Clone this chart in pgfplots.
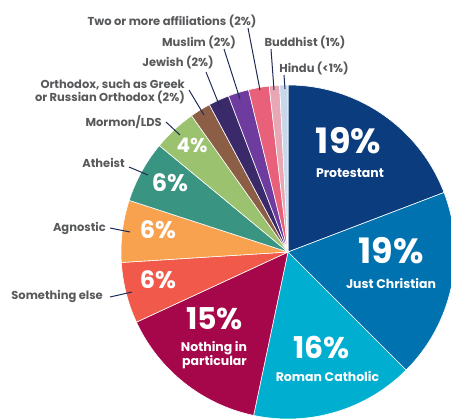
\documentclass[border=0pt]{standalone}
\usepackage{pgfplots}
\pgfplotsset{compat=1.18}
\usepackage{pgfplotstable}
\usepackage{fontspec}
\setmainfont{Poppins}
\definecolor{cProt}{HTML}{0B3C7D}
\definecolor{cJust}{HTML}{0072B0}
\definecolor{cRC}{HTML}{00AECF}
\definecolor{cNIP}{HTML}{A6064A}
\definecolor{cSE}{HTML}{F15A4A}
\definecolor{cAgn}{HTML}{F8A14E}
\definecolor{cAth}{HTML}{3A9482}
\definecolor{cMor}{HTML}{9BC26E}
\definecolor{cOrt}{HTML}{8B5E45}
\definecolor{cJew}{HTML}{3A2A6A}
\definecolor{cMus}{HTML}{6E3C9E}
\definecolor{cTwo}{HTML}{E8607A}
\definecolor{cBud}{HTML}{E8A7B4}
\definecolor{cHin}{HTML}{C8D8EA}
\definecolor{lblgray}{HTML}{58595B}
\definecolor{leader}{HTML}{1F2A55}
\pgfplotstableread[col sep=comma]{
name,value,color
Protestant,19.2,cProt
Just Christian,18.3,cJust
Roman Catholic,15.8,cRC
Nothing in particular,14.8,cNIP
Something else,5.9,cSE
Agnostic,6.0,cAgn
Atheist,6.0,cAth
Mormon/LDS,4.2,cMor
Orthodox,2.0,cOrt
Jewish,2.0,cJew
Muslim,2.0,cMus
Two or more,2.0,cTwo
Buddhist,1.0,cBud
Hindu,0.8,cHin
}\piedata
\begin{document}
\begin{tikzpicture}
\useasboundingbox (0,0) rectangle (451bp,420bp);
\begin{axis}[at={(0,0)}, anchor=south west, scale only axis,
  width=451bp, height=420bp, xmin=0, xmax=451, ymin=0, ymax=420,
  y dir=reverse, hide axis, clip=true]
\pgfplotstablegetrowsof{\piedata}
\pgfmathtruncatemacro{\nrows}{\pgfplotsretval-1}
\def\cum{0}
\pgfplotsforeachungrouped \i in {0,...,\nrows}{%
  \pgfplotstablegetelem{\i}{value}\of\piedata \let\sliceval=\pgfplotsretval
  \pgfplotstablegetelem{\i}{color}\of\piedata \let\slicecol=\pgfplotsretval
  \pgfmathsetmacro{\aone}{90-3.6*\cum}%
  \pgfmathsetmacro{\atwo}{90-3.6*(\cum+\sliceval)}%
  \edef\temp{\noexpand\fill[fill=\slicecol, draw=white, line width=0.6pt, line join=round] (axis cs:288,252) -- ++(\aone:167bp) arc[start angle=\aone, end angle=\atwo, radius=167bp] -- cycle;}%
  \temp
  \pgfmathsetmacro{\cum}{\cum+\sliceval}%
}
% inner labels
\tikzset{num/.style={text=white, inner sep=0pt, text height=0.7em, text depth=0pt},
  big/.style={num, font=\bfseries\fontsize{35bp}{35bp}\selectfont},
  mid/.style={num, font=\bfseries\fontsize{30bp}{30bp}\selectfont},
  sml/.style={num, font=\bfseries\fontsize{24bp}{24bp}\selectfont},
  sub/.style={num, font=\bfseries\fontsize{12.5bp}{14bp}\selectfont},
  lbl/.style={text=lblgray, font=\bfseries\fontsize{11.5bp}{13bp}\selectfont, inner sep=0pt},
  ldr/.style={draw=leader, line width=1pt}}
\node[big] at (axis cs:348.5,150) {19\%};
\node[sub] at (axis cs:350,174) {Protestant};
\node[big] at (axis cs:391,260) {19\%};
\node[sub] at (axis cs:391,285) {Just Christian};
\node[mid] at (axis cs:321.5,355) {16\%};
\node[sub] at (axis cs:327.5,378) {Roman Catholic};
\node[mid] at (axis cs:214.5,326) {15\%};
\node[sub] at (axis cs:214,348) {Nothing in};
\node[sub] at (axis cs:214.5,362) {particular};
\node[sml] at (axis cs:158,285) {6\%};
\node[sml] at (axis cs:158,235) {6\%};
\node[sml] at (axis cs:170,188) {6\%};
\node[num, font=\bfseries\fontsize{20bp}{20bp}\selectfont] at (axis cs:192,149) {4\%};
% outside labels
\node[lbl] at (axis cs:172,21) {Two or more affiliations (2\%)};
\node[lbl] at (axis cs:199,42) {Muslim (2\%)};
\node[lbl] at (axis cs:305,42) {Buddhist (1\%)};
\node[lbl] at (axis cs:178,62) {Jewish (2\%)};
\node[lbl] at (axis cs:314,68) {Hindu (<1\%)};
\node[lbl, anchor=east, align=right] at (axis cs:185,91.5) {Orthodox, such as Greek\\or Russian Orthodox (2\%)};
\node[lbl, anchor=east] at (axis cs:162,122) {Mormon/LDS};
\node[lbl, anchor=east] at (axis cs:125,163) {Atheist};
\node[lbl, anchor=east] at (axis cs:106,228) {Agnostic};
\node[lbl, anchor=east] at (axis cs:103,296) {Something else};
% leader lines
\draw[ldr] (axis cs:248,28) -- (axis cs:260,90);
\draw[ldr] (axis cs:224,49) -- (axis cs:240,99);
\draw[ldr] (axis cs:271,49) -- (axis cs:274,90);
\draw[ldr] (axis cs:206,72) -- (axis cs:220,107);
\draw[ldr] (axis cs:284,75) -- (axis cs:285,89);
\draw[ldr] (axis cs:189,90) -- (axis cs:204,115);
\draw[ldr] (axis cs:166,122) -- (axis cs:180,135);
\draw[ldr] (axis cs:129,167) -- (axis cs:148,175);
\draw[ldr] (axis cs:110,228) -- (axis cs:130,232);
\draw[ldr] (axis cs:110,297) -- (axis cs:132,292);
\end{axis}
\end{tikzpicture}
\end{document}
